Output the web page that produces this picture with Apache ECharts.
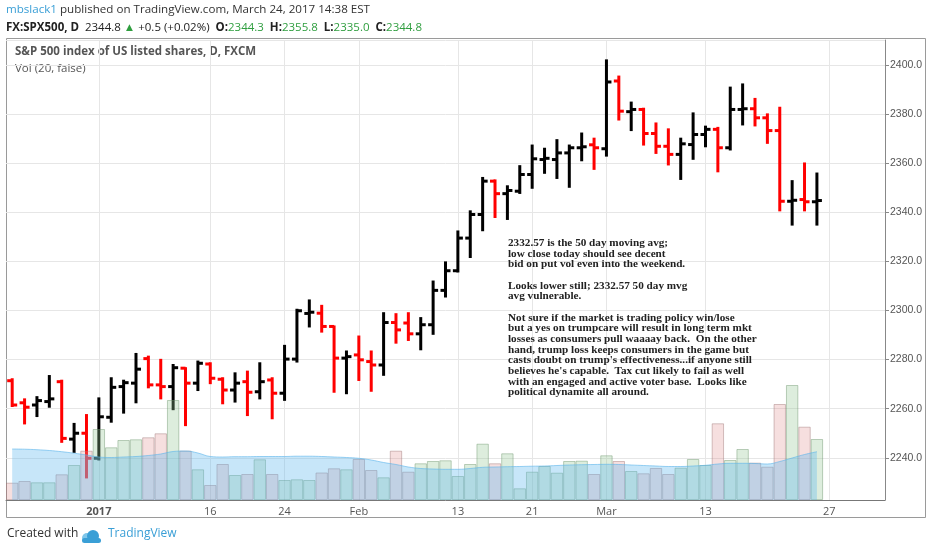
<!DOCTYPE html>
<html>
<head>
<meta charset="utf-8">
<title>SPX500 daily</title>
<script src="https://cdn.jsdelivr.net/npm/echarts@6/dist/echarts.min.js"></script>
<style>
  html, body { margin: 0; padding: 0; background: #fff; }
  #chart { width: 932px; height: 550px; }
</style>
</head>
<body>
<div id="chart"></div>
<script>
// trading days (FXCM SPX500 CFD, daily) + a few empty future slots on the axis
var dates = [
  '2016-12-21','2016-12-22','2016-12-23','2016-12-27','2016-12-28','2016-12-29','2016-12-30',
  '2017-01-03','2017-01-04','2017-01-05','2017-01-06','2017-01-09','2017-01-10','2017-01-11',
  '2017-01-12','2017-01-13','2017-01-16','2017-01-17','2017-01-18','2017-01-19','2017-01-20',
  '2017-01-23','2017-01-24','2017-01-25','2017-01-26','2017-01-27','2017-01-30','2017-01-31',
  '2017-02-01','2017-02-02','2017-02-03','2017-02-06','2017-02-07','2017-02-08','2017-02-09',
  '2017-02-10','2017-02-13','2017-02-14','2017-02-15','2017-02-16','2017-02-17','2017-02-20',
  '2017-02-21','2017-02-22','2017-02-23','2017-02-24','2017-02-27','2017-02-28','2017-03-01',
  '2017-03-02','2017-03-03','2017-03-06','2017-03-07','2017-03-08','2017-03-09','2017-03-10',
  '2017-03-13','2017-03-14','2017-03-15','2017-03-16','2017-03-17','2017-03-20','2017-03-21',
  '2017-03-22','2017-03-23','2017-03-24',
  '2017-03-27','2017-03-28','2017-03-29','2017-03-30','2017-03-31'
];

var opens = [
  2271.4, 2262.4, 2261.5, 2262.9, 2271.0, 2247.6, 2250.0,
  2239.8, 2256.5, 2269.0, 2270.4, 2280.4, 2269.7, 2269.0,
  2276.5, 2270.4, 2278.2, 2272.0, 2267.6, 2271.0, 2266.9,
  2271.7, 2266.3, 2280.2, 2298.8, 2298.9, 2293.5, 2280.6,
  2281.9, 2279.2, 2277.8, 2295.1, 2294.9, 2290.5, 2294.2,
  2308.2, 2316.2, 2329.5, 2339.1, 2352.7, 2347.6, 2348.6,
  2355.4, 2361.5, 2361.5, 2364.2, 2366.3, 2367.5, 2365.9,
  2393.5, 2381.0, 2381.9, 2372.1, 2366.9, 2363.6, 2367.6,
  2371.7, 2373.8, 2366.3, 2381.9, 2382.2, 2378.5, 2373.3,
  2344.5, 2345.2, 2344.3
];
var highs = [
  2272.0, 2263.8, 2264.7, 2273.3, 2271.4, 2253.8, 2257.4,
  2264.2, 2272.4, 2271.4, 2282.3, 2281.2, 2279.9, 2277.8,
  2276.5, 2279.2, 2278.5, 2272.4, 2274.4, 2275.1, 2278.5,
  2272.4, 2285.6, 2300.3, 2304.1, 2301.9, 2293.5, 2283.3,
  2289.4, 2283.3, 2298.9, 2298.5, 2298.9, 2296.9, 2311.8,
  2319.6, 2332.2, 2340.4, 2354.0, 2353.0, 2350.6, 2358.8,
  2367.2, 2365.9, 2369.4, 2367.2, 2372.1, 2370.0, 2401.9,
  2395.3, 2384.7, 2382.2, 2376.2, 2373.8, 2370.0, 2380.3,
  2374.9, 2374.4, 2390.8, 2392.1, 2386.2, 2379.9, 2382.6,
  2352.7, 2359.9, 2355.8
];
var lows = [
  2261.1, 2254.0, 2257.0, 2260.8, 2246.5, 2242.4, 2232.0,
  2239.3, 2254.7, 2258.4, 2262.6, 2268.7, 2264.2, 2259.8,
  2253.3, 2267.6, 2270.4, 2262.2, 2262.9, 2257.4, 2264.2,
  2256.1, 2263.6, 2279.2, 2293.5, 2291.4, 2266.9, 2266.3,
  2271.7, 2267.3, 2273.8, 2286.9, 2288.0, 2284.2, 2290.5,
  2305.7, 2315.9, 2321.8, 2332.7, 2338.1, 2337.3, 2347.9,
  2350.0, 2356.1, 2354.0, 2350.4, 2361.2, 2357.7, 2363.1,
  2377.8, 2373.5, 2367.6, 2364.2, 2359.5, 2353.6, 2361.8,
  2366.9, 2356.7, 2365.6, 2375.8, 2375.4, 2368.3, 2340.8,
  2335.0, 2340.8, 2335.0
];
var closes = [
  2261.5, 2260.6, 2263.3, 2264.0, 2247.9, 2250.0, 2239.8,
  2256.7, 2268.7, 2270.6, 2276.1, 2269.7, 2269.0, 2276.7,
  2270.4, 2278.5, 2272.4, 2267.6, 2270.4, 2266.7, 2271.0,
  2266.3, 2280.2, 2299.9, 2299.3, 2293.5, 2280.6, 2281.2,
  2279.9, 2277.8, 2295.1, 2292.1, 2290.5, 2294.2, 2308.2,
  2316.2, 2329.5, 2339.1, 2352.7, 2347.6, 2348.9, 2355.4,
  2361.8, 2362.0, 2364.2, 2366.3, 2366.7, 2366.3, 2393.1,
  2381.2, 2381.9, 2372.1, 2366.9, 2363.6, 2367.9, 2371.7,
  2373.8, 2366.3, 2381.9, 2382.2, 2378.5, 2373.3, 2344.5,
  2344.9, 2344.3, 2344.8
];

var volumes = [
  17.3, 19.0, 17.7, 17.7, 25.7, 35.0, 49.3,
  71.0, 52.7, 60.0, 60.7, 62.7, 66.7, 100.0,
  49.3, 30.7, 15.0, 36.0, 25.0, 26.0, 40.7,
  26.0, 20.0, 20.7, 20.0, 27.5, 31.7, 30.7,
  41.0, 30.0, 22.7, 49.3, 28.3, 36.7, 39.0,
  39.7, 24.0, 36.0, 56.3, 36.7, 46.7, 11.7,
  28.3, 34.0, 27.3, 39.0, 39.3, 26.0, 44.7,
  39.0, 29.0, 26.7, 32.0, 26.0, 32.3, 41.0,
  35.0, 76.7, 40.0, 51.0, 37.3, 33.3, 96.0,
  115.0, 73.3, 61.0
];
var volMA = [
  51.0, 50.8, 50.3, 49.5, 48.3, 46.8, 45.0,
  43.0, 42.5, 43.0, 43.5, 44.5, 46.0, 48.5,
  49.0, 47.0, 43.5, 43.0, 43.3, 43.3, 43.5,
  43.5, 43.5, 43.8, 43.8, 43.5, 43.0, 42.5,
  41.7, 40.0, 37.5, 35.5, 33.0, 31.5, 31.0,
  30.7, 30.7, 31.5, 32.7, 33.0, 33.3, 33.5,
  33.8, 34.0, 34.5, 35.0, 35.3, 35.5, 35.7,
  35.5, 35.0, 34.5, 34.0, 33.5, 33.5, 34.0,
  34.7, 36.0, 36.7, 36.7, 36.5, 36.0, 38.5,
  42.0, 45.5, 48.3
];

var xTickDates = ['2017-01-03','2017-01-16','2017-01-24','2017-02-01','2017-02-13','2017-02-21','2017-03-01','2017-03-13','2017-03-27'];
var xTickLabels = ['2017','16','24','Feb','13','21','Mar','13','27'];

var lastPrice = 2344.8;

var noteLines = [
  '2332.57 is the 50 day moving avg;',
  'low close today should see decent',
  'bid on put vol even into the weekend.',
  '',
  'Looks lower still; 2332.57 50 day mvg',
  'avg vulnerable.',
  '',
  'Not sure if the market is trading policy win/lose',
  'but a yes on trumpcare will result in long term mkt',
  'losses as consumers pull waaaay back.  On the other',
  'hand, trump loss keeps consumers in the game but',
  "casts doubt on trump's effectiveness...if anyone still",
  "believes he's capable.  Tax cut likely to fail as well",
  'with an engaged and active voter base.  Looks like',
  'political dynamite all around.'
];

var UP = '#000000', DOWN = '#ff0000';
var GREEN = '#2f9e3f';

var tickMap = {};
xTickDates.forEach(function (d, i) { tickMap[d] = xTickLabels[i]; });
function isTick(index, value) { return tickMap[value] !== undefined; }

var ohlc = opens.map(function (o, i) {
  return [i, o, highs[i], lows[i], closes[i]];
});

var volData = volumes.map(function (v, i) {
  var up = closes[i] >= opens[i];
  return {
    value: v,
    itemStyle: {
      color: up ? 'rgba(150, 200, 150, 0.32)' : 'rgba(225, 150, 150, 0.30)',
      borderColor: up ? 'rgba(110, 150, 110, 0.45)' : 'rgba(160, 120, 120, 0.45)'
    }
  };
});

var chart = echarts.init(document.getElementById('chart'));

var option = {
  animation: false,
  backgroundColor: '#ffffff',
  textStyle: { fontFamily: 'Open Sans' },
  grid: { left: 6, right: 47, top: 40, bottom: 50 },
  xAxis: {
    type: 'category',
    data: dates,
    boundaryGap: true,
    axisLine: { lineStyle: { color: '#777', width: 1 } },
    axisTick: { show: false },
    axisLabel: {
      interval: isTick,
      margin: 6,
      color: '#555',
      fontSize: 11,
      fontFamily: 'Open Sans',
      formatter: function (value) {
        var t = tickMap[value];
        if (t === undefined) return '';
        return t === '2017' ? '{y|' + t + '}' : t;
      },
      rich: { y: { fontWeight: 'bold', color: '#555', fontSize: 11 } }
    },
    splitLine: {
      show: true,
      interval: isTick,
      alignWithLabel: true,
      lineStyle: { color: '#e6e6e6' }
    }
  },
  yAxis: [
    {
      type: 'value',
      position: 'right',
      min: 2222.8,
      max: 2410.2,
      splitNumber: 9,
      scale: true,
      axisLine: { show: true, lineStyle: { color: '#888' } },
      axisTick: { show: true, length: 4, lineStyle: { color: '#888' } },
      axisLabel: {
        margin: 5,
        color: '#555',
        fontSize: 10.5,
        fontFamily: 'Liberation Sans',
        showMinLabel: false,
        showMaxLabel: false,
        formatter: function (v) { return v.toFixed(1); }
      },
      splitLine: { lineStyle: { color: '#e6e6e6' } }
    },
    {
      type: 'value',
      min: 0,
      max: 460,
      show: false,
      splitLine: { show: false }
    }
  ],
  series: [
    {
      name: 'SPX500',
      type: 'custom',
      z: 2,
      data: ohlc,
      encode: { x: 0, y: [1, 2, 3, 4] },
      renderItem: function (params, api) {
        var i = api.value(0);
        var o = api.coord([i, api.value(1)]);
        var h = api.coord([i, api.value(2)]);
        var l = api.coord([i, api.value(3)]);
        var c = api.coord([i, api.value(4)]);
        var w = 5;
        var color = api.value(4) >= api.value(1) ? UP : DOWN;
        var st = { stroke: color, lineWidth: 3 };
        return {
          type: 'group',
          children: [
            { type: 'line', shape: { x1: h[0], y1: h[1] - 1, x2: l[0], y2: l[1] + 1 }, style: st },
            { type: 'line', shape: { x1: o[0] - w, y1: o[1], x2: o[0], y2: o[1] }, style: st },
            { type: 'line', shape: { x1: c[0], y1: c[1], x2: c[0] + w, y2: c[1] }, style: st }
          ]
        };
      },
      markLine: {
        silent: true,
        symbol: ['none', 'none'],
        lineStyle: { opacity: 0 },
        data: [{ yAxis: lastPrice }],
        label: {
          show: true,
          position: 'end',
          distance: 1,
          formatter: lastPrice.toFixed(1),
          backgroundColor: '#000',
          color: '#fff',
          fontWeight: 'bold',
          fontSize: 10.5,
          fontFamily: 'Liberation Sans',
          padding: [1, 3, 1, 3]
        }
      }
    },
    {
      name: 'Vol',
      type: 'bar',
      yAxisIndex: 1,
      z: 3,
      barCategoryGap: '0%',
      data: volData,
      itemStyle: { borderWidth: 1 }
    },
    {
      name: 'Vol MA 20',
      type: 'line',
      yAxisIndex: 1,
      z: 4,
      data: volMA,
      smooth: 0.4,
      symbol: 'none',
      lineStyle: { color: 'rgba(90, 180, 235, 0.6)', width: 1 },
      areaStyle: { color: 'rgba(95, 184, 238, 0.5)', origin: 'start' }
    }
  ],
  graphic: [
    {
      type: 'rect',
      shape: { x: 6.5, y: 38.5, width: 919, height: 479 },
      style: { fill: 'none', stroke: '#9a9a9a', lineWidth: 1 },
      z: 0
    },
    {
      type: 'text', left: 6, top: 4,
      style: {
        text: '{u|mbslack1} published on TradingView.com, March 24, 2017 14:38 EST',
        fontSize: 11.6, fontFamily: 'Open Sans', fill: '#333',
        rich: { u: { fill: '#3a9fd6', fontSize: 11.6, fontFamily: 'Open Sans' } }
      }
    },
    {
      type: 'text', left: 6, top: 22,
      style: {
        text: '{b|FX:SPX500, D}  2344.8 {g|▲} +0.5 (+0.02%)  {b|O:}{g|2344.3}  {b|H:}{g|2355.8}  {b|L:}{g|2335.0}  {b|C:}{g|2344.8}',
        fontSize: 11.5, fontFamily: 'Open Sans', fill: '#222',
        rich: {
          b: { fontWeight: 'bold', fill: '#222', fontSize: 11.5, fontFamily: 'Open Sans' },
          g: { fill: GREEN, fontSize: 11.5, fontFamily: 'Open Sans' }
        }
      }
    },
    {
      type: 'text', left: 15, top: 46,
      style: {
        text: 'S&P 500 index of US listed shares, D, FXCM',
        fontSize: 11.5, fontWeight: 'bold', fontFamily: 'Open Sans', fill: '#555'
      }
    },
    {
      type: 'text', left: 15, top: 63,
      style: { text: 'Vol (20, false)', fontSize: 11.5, fontFamily: 'Open Sans', fill: '#555' }
    },
    {
      type: 'text', left: 508, top: 237.5,
      z: 10,
      style: {
        text: noteLines.join('\n'),
        fontSize: 11.2, fontWeight: 'bold', fontFamily: 'Liberation Serif',
        lineHeight: 10.67, fill: '#222'
      }
    },
    {
      type: 'text', left: 7, top: 528,
      style: { text: 'Created with', fontSize: 12, fontFamily: 'Open Sans', fill: '#333' }
    },
    {
      type: 'group', left: 82, top: 530,
      children: [
        { type: 'circle', shape: { cx: 8, cy: 8, r: 5 }, style: { fill: '#7fc6ea' } },
        { type: 'circle', shape: { cx: 14, cy: 6, r: 6 }, style: { fill: '#3a9fd6' } },
        { type: 'rect', shape: { x: 3, y: 8, width: 19, height: 5, r: 2.5 }, style: { fill: '#3a9fd6' } }
      ]
    },
    {
      type: 'text', left: 108, top: 528,
      style: { text: 'TradingView', fontSize: 12, fontFamily: 'Open Sans', fill: '#3a9fd6' }
    }
  ]
};

chart.setOption(option);
</script>
</body>
</html>
